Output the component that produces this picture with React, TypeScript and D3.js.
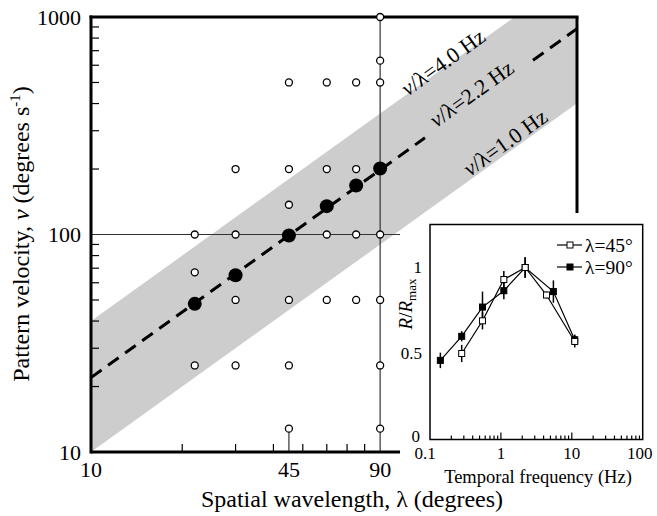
import React from "react";
import * as d3 from "d3";

// ---- main panel: optimal pattern velocity vs spatial wavelength ----
const optimalWavelength = [22, 30, 45, 60, 75, 90];
const optimalVelocity = [48, 65, 99, 135, 168, 201];

// tested stimulus combinations (open circles)
const testedWavelength = [
  22, 22, 22,
  30, 30, 30, 30,
  45, 45, 45, 45, 45, 45,
  60, 60, 60, 60,
  75, 75, 75, 75,
  90, 90, 90, 90, 90, 90, 90,
];
const testedVelocity = [
  100, 67, 25,
  200, 100, 50, 25,
  500, 200, 137, 50, 25, 12.8,
  500, 200, 100, 50,
  500, 200, 100, 50,
  1000, 630, 500, 100, 50, 25, 12.8,
];

// temporal-frequency band (v / lambda)
const bandLowHz = 1.0;
const bandHighHz = 4.0;
const optimalHz = 2.2;

const yMinorTicks = [20, 30, 40, 50, 60, 70, 80, 90, 200, 300, 400, 500, 600, 700, 800, 900];
const yTickLabels = [10, 100, 1000];
const xMinorTicks = [20, 30, 40, 50, 60, 70, 80];
const xTickLabels = [10, 45, 90];

// ---- inset: normalised response vs temporal frequency ----
const tf45 = [0.28, 0.55, 1.1, 2.2, 4.4, 11];
const r45 = [0.5, 0.69, 0.93, 1.0, 0.84, 0.57];
const e45 = [0.05, 0.05, 0.05, 0.06, 0.02, 0.035];

const tf90 = [0.14, 0.28, 0.55, 1.1, 2.2, 5.5, 11];
const r90 = [0.46, 0.6, 0.77, 0.865, 1.0, 0.86, 0.58];
const e90 = [0.045, 0.03, 0.09, 0.05, 0.06, 0.065, 0.03];

const insetXLabels = ["0.1", "1", "10", "100"];
const insetYLabels = [0, 0.5, 1];
const insetMinor = [0.2, 0.3, 0.4, 0.5, 0.6, 0.7, 0.8, 0.9, 2, 3, 4, 5, 6, 7, 8, 9, 20, 30, 40, 50, 60, 70, 80, 90];
const insetMajor = [1, 10];

const FONT = "'Liberation Serif', 'Times New Roman', Times, serif";

export default function App() {
  // main panel geometry
  const left = 91, top = 17, right = 577, bottom = 452;
  const axisEnd = 400;
  const frameRightEnd = 213;

  const x = d3.scaleLog().domain([10, 100]).range([left, left + 303]);
  const y = d3.scaleLog().domain([10, 1000]).range([bottom, top]);
  const lamMax = x.invert(right);

  const line = d3
    .line<[number, number]>()
    .x((d) => x(d[0]))
    .y((d) => y(d[1]));

  const band: [number, number][] = [
    [10, 10 * bandLowHz],
    [lamMax, lamMax * bandLowHz],
    [lamMax, lamMax * bandHighHz],
    [10, 10 * bandHighHz],
  ];

  // dashed optimum line, broken where its label sits
  const gapStart = x.invert(425);
  const gapEnd = x.invert(533);
  const dash1: [number, number][] = [
    [10, 10 * optimalHz],
    [gapStart, gapStart * optimalHz],
  ];
  const dash2: [number, number][] = [
    [gapEnd, gapEnd * optimalHz],
    [lamMax, lamMax * optimalHz],
  ];

  const angle = (Math.atan((y(10) - y(100)) / (x(100) - x(10))) * 180) / Math.PI;

  const bandLabels = [
    { hz: bandHighHz, text: "4.0", lam: 111, off: 3 },
    { hz: optimalHz, text: "2.2", lam: 137.8, off: -1.5 },
    { hz: bandLowHz, text: "1.0", lam: 178, off: -3 },
  ];

  // inset geometry
  const xi = d3.scaleLog().domain([0.1, 100]).range([430, 642.7]);
  const yi = d3.scaleLinear().domain([0, 1.25]).range([439.5, 224.5]);
  const seriesPath = (tf: number[], r: number[]) =>
    d3
      .line<number>()
      .x((_, i) => xi(tf[i]))
      .y((_, i) => yi(r[i]))(tf) || "";

  const sq = 6;

  return (
    <svg width={657} height={516} style={{ display: "block", position: "absolute", left: 0, top: 0 }} fontFamily={FONT}>
      <rect width={657} height={516} fill="#fff" />
      <defs>
        <clipPath id="plotClip">
          <rect x={left} y={top} width={right - left} height={bottom - top} />
        </clipPath>
      </defs>

      {/* frequency band */}
      <g clipPath="url(#plotClip)">
        <path d={line(band) || ""} fill="#cdcdcd" />
        <path d={line(dash1) || ""} stroke="#000" strokeWidth={3} strokeDasharray="13 8" fill="none" />
        <path d={line(dash2) || ""} stroke="#000" strokeWidth={3} strokeDasharray="13 8" fill="none" />
      </g>

      {/* reference lines at 90 deg and 100 deg/s */}
      <line x1={x(90)} x2={x(90)} y1={top} y2={bottom} stroke="#333" strokeWidth={1.2} />
      <line x1={left} x2={axisEnd} y1={y(100)} y2={y(100)} stroke="#333" strokeWidth={1.2} />
      <line x1={x(45)} x2={x(45)} y1={y(12.8)} y2={bottom} stroke="#333" strokeWidth={1.2} />

      {/* ticks */}
      {yMinorTicks.map((t) => (
        <line key={"yt" + t} x1={left} x2={left + 8} y1={y(t)} y2={y(t)} stroke="#000" strokeWidth={1.2} />
      ))}
      {xMinorTicks.map((t) => (
        <line key={"xt" + t} x1={x(t)} x2={x(t)} y1={bottom} y2={bottom - 8} stroke="#000" strokeWidth={1.2} />
      ))}

      {/* frame */}
      <line x1={left} x2={left} y1={top - 1.5} y2={bottom + 1.5} stroke="#000" strokeWidth={3} />
      <line x1={left} x2={axisEnd} y1={bottom} y2={bottom} stroke="#000" strokeWidth={3} />
      <line x1={left - 1.5} x2={right + 1.5} y1={top} y2={top} stroke="#000" strokeWidth={3} />
      <line x1={right} x2={right} y1={top} y2={frameRightEnd} stroke="#000" strokeWidth={3} />

      {/* tested combinations */}
      {testedVelocity.map((v, i) => (
        <circle key={"o" + i} cx={x(testedWavelength[i])} cy={y(v)} r={3.5} fill="#fff" stroke="#000" strokeWidth={1.3} />
      ))}
      {/* optimal velocities */}
      {optimalVelocity.map((v, i) => (
        <circle key={"f" + i} cx={x(optimalWavelength[i])} cy={y(v)} r={7} fill="#000" />
      ))}

      {/* band labels */}
      {bandLabels.map((b) => {
        const px = x(b.lam);
        const py = y(b.lam * b.hz) + b.off;
        return (
          <text key={b.text} transform={`translate(${px},${py}) rotate(${-angle})`} fontSize={22}>
            <tspan fontStyle="italic">v</tspan>/λ={b.text} Hz
          </text>
        );
      })}

      {/* main tick labels */}
      {yTickLabels.map((t) => (
        <text key={"yl" + t} x={81} y={y(t)} dy="0.35em" textAnchor="end" fontSize={22}>
          {t}
        </text>
      ))}
      {xTickLabels.map((t) => (
        <text key={"xl" + t} x={x(t)} y={477} textAnchor="middle" fontSize={22}>
          {t}
        </text>
      ))}

      {/* main axis titles */}
      <text transform="translate(29,234) rotate(-90)" textAnchor="middle" fontSize={24}>
        Pattern velocity, <tspan fontStyle="italic">v</tspan> (degrees s
        <tspan dy={-9} fontSize={15}>-1</tspan>
        <tspan dy={9}>)</tspan>
      </text>
      <text x={352} y={507} textAnchor="middle" fontSize={24}>
        Spatial wavelength, λ (degrees)
      </text>

      {/* ---- inset ---- */}
      <rect x={430} y={224.5} width={212.7} height={215} fill="none" stroke="#000" strokeWidth={1.5} />
      {insetMinor.map((t) => (
        <line key={"im" + t} x1={xi(t)} x2={xi(t)} y1={439.5} y2={435.5} stroke="#000" strokeWidth={1.2} />
      ))}
      {insetMajor.map((t) => (
        <line key={"iM" + t} x1={xi(t)} x2={xi(t)} y1={439.5} y2={432.5} stroke="#000" strokeWidth={1.2} />
      ))}
      {insetXLabels.map((t, i) => (
        <text key={"ixl" + t} x={xi(+t)} dx={i === 0 ? -5 : i === 3 ? -3 : 0} y={459} textAnchor="middle" fontSize={17}>
          {t}
        </text>
      ))}
      {insetYLabels.map((t) => (
        <text key={"iyl" + t} x={t === 0 ? 420 : 422} y={yi(t) - (t === 0 ? 3 : 0)} dy="0.35em" textAnchor="end" fontSize={17}>
          {t}
        </text>
      ))}
      <text x={538} y={483} textAnchor="middle" fontSize={18.5}>
        Temporal frequency (Hz)
      </text>
      <text transform="translate(412,304) rotate(-90)" textAnchor="middle" fontSize={19}>
        <tspan fontStyle="italic">R</tspan>/<tspan fontStyle="italic">R</tspan>
        <tspan dy={4} fontSize={13}>max</tspan>
      </text>

      {/* error bars */}
      {tf90.map((t, i) => (
        <line key={"e90" + i} x1={xi(t)} x2={xi(t)} y1={yi(r90[i] - e90[i])} y2={yi(r90[i] + e90[i])} stroke="#000" strokeWidth={1.5} />
      ))}
      {tf45.map((t, i) => (
        <line key={"e45" + i} x1={xi(t)} x2={xi(t)} y1={yi(r45[i] - e45[i])} y2={yi(r45[i] + e45[i])} stroke="#000" strokeWidth={1.5} />
      ))}

      {/* series lines */}
      <path d={seriesPath(tf90, r90)} fill="none" stroke="#000" strokeWidth={1.2} />
      <path d={seriesPath(tf45, r45)} fill="none" stroke="#000" strokeWidth={1.2} />

      {tf90.map((t, i) => (
        <rect key={"s90" + i} x={xi(t) - sq / 2} y={yi(r90[i]) - sq / 2} width={sq} height={sq} fill="#000" stroke="#000" strokeWidth={1} />
      ))}
      {tf45.map((t, i) => (
        <rect key={"s45" + i} x={xi(t) - sq / 2} y={yi(r45[i]) - sq / 2} width={sq} height={sq} fill="#fff" stroke="#000" strokeWidth={1} />
      ))}

      {/* legend */}
      <line x1={557} x2={582} y1={245} y2={245} stroke="#000" strokeWidth={1.2} />
      <rect x={570 - sq / 2} y={245 - sq / 2} width={sq} height={sq} fill="#fff" stroke="#000" strokeWidth={1} />
      <text x={585} y={245} dy="0.35em" fontSize={19.5}>
        λ=45°
      </text>
      <line x1={557} x2={582} y1={267} y2={267} stroke="#000" strokeWidth={1.2} />
      <rect x={570 - sq / 2} y={267 - sq / 2} width={sq} height={sq} fill="#000" stroke="#000" strokeWidth={1} />
      <text x={585} y={267} dy="0.35em" fontSize={19.5}>
        λ=90°
      </text>
    </svg>
  );
}
